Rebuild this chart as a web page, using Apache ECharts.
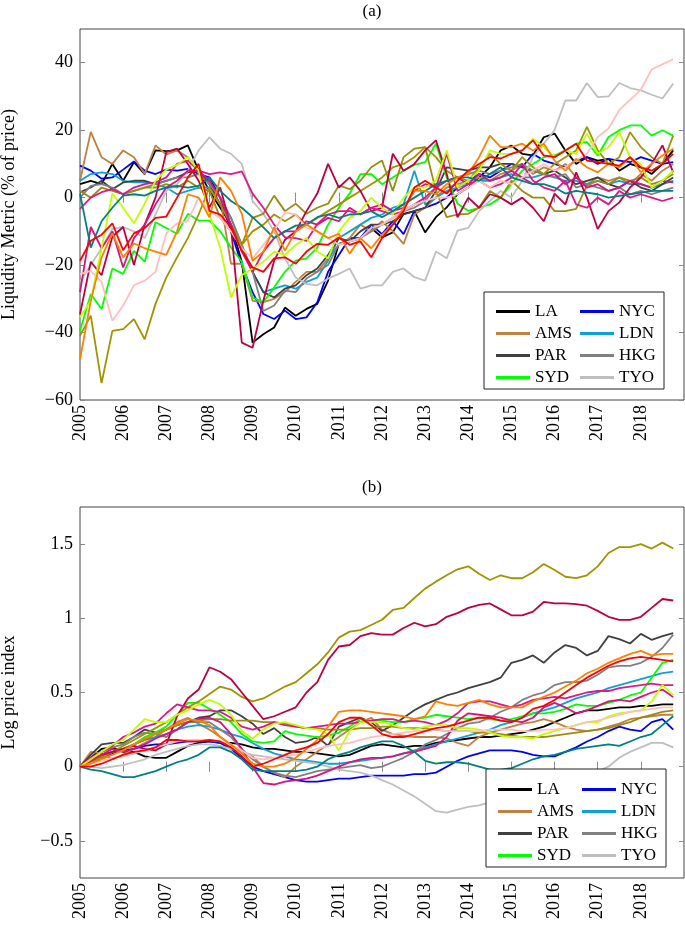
<!DOCTYPE html>
<html>
<head>
<meta charset="utf-8">
<title>Liquidity metric and log price index</title>
<script src="https://cdn.jsdelivr.net/npm/echarts@6/dist/echarts.min.js"></script>
<style>
  html, body { margin: 0; padding: 0; background: #fff; }
  #chart { width: 685px; height: 926px; }
</style>
</head>
<body>
<div id="chart"></div>
<script>
// quarterly observations, 2005Q1 .. 2018Q4
const quarters = [];
for (let i = 0; i < 56; i++) quarters.push(2005 + i / 4);

const yearTicks = [2005, 2006, 2007, 2008, 2009, 2010, 2011, 2012, 2013, 2014, 2015, 2016, 2017, 2018];
const liqTicks = [-60, -40, -20, 0, 20, 40];
const priceTicks = [-0.5, 0, 0.5, 1, 1.5];

// (a) liquidity metric, % of price
const liqLA = [4,5,4,10, 5,10.5,7,14, 13.8,14,15.5,8, 2,-3,-8,-19, -43,-40.5,-38.5,-32.6, -35,-33,-31.5,-24.6, -13.7,-13,-12,-9, -11.8,-10.3,-4.8,-4, -10.3,-5.8,-2.9,1, 3,6,9,14, 15.4,13,12.5,17.9, 19,14,10,12, 11,11.5,8,10, 9,7,10,14];
const liqNYC = [9.5,8,5.6,6, 8.3,10.7,8,7, 8.3,8,8.5,7, 6,0,-10,-20, -28,-34.5,-36,-33.5, -36,-35.5,-31,-22, -17,-12,-12,-8, -10.8,-7,-10.8,-3.9, -3,-1.8,0,3, 5,7,6,8, 10,9,13,11, 10,9,11,12, 10,11.5,11,10.5, 12,11,10,10.5];
const liqAMS = [5,19.5,12,10, 14,12,7,15.5, 12.8,14,12,8, 4,0,-19.6,-19.6, -30.6,-31,-30,-28, -25,-22,-22,-18, -14,-12,-8,-10, -7,-10,-13.7,-5, -3,0,3,4, 5,6,5,7, 8,10,7,9, 8,10,6,4, 6,5,6,4, 7,5,8,10];
const liqLDN = [5,7,7.5,7, 5,4.5,4.5,4, 3,1,2,3, 3,0,-6,-14, -22,-28,-27,-26, -27,-25,-23.7,-18.7, -12,-10,-8,-6, -5,-3,-2,8, -2,0,2,3, 4,5,5,6, 7,6,6,7, 6,5,5,4, 5,4,5,4, 4,3,4,5];
const liqPAR = [1.6,3,5,2.5, 4.5,5,5,4, 5,6,7.5,8, 4,-2,-8,-15, -22,-28,-29.6,-27, -26,-23,-21,-17, -12,-13,-10,-8, -8,-7,-5,-4, -3,2,9,8.5, 8,9,9,10, 10,9,8,7, 8,6,4,5, 6,4,3,5, 3,2,4,6];
const liqHKG = [0,3.5,4,3, 1,2,3,4, 5,6,6,7, 4,0,-6,-14, -22,-33.6,-32,-27.6, -28,-24,-22,-20, -13.7,-13,-12,-10, -8,-6,-4,-3, -1,3,5,6, 7,8,7,8, 9,10,8,7, 6,7,3,4, 3,2,3,1, 2,1,2,3];
const liqSYD = [-39.5,-28.6,-33,-21, -22.6,-15.8,-19,-7.3, -9,-10.7,-4.8,-6.8, -6.8,-10,-14.8,-19, -29.6,-31,-26.6,-22, -18.7,-18,-14.8,-8, -2.9,1.2,7,7, 4,6,8,9.7, 10.5,16,6,-1.8, -3.9,-3,-2,0, 4,8,10,12, 12.5,14,16,16.5, 12.5,18,20,21.4, 21.4,18.4,20,18.4];
const liqTYO = [-25,-20,-15,-9.3, -8.7,-10,-12,-5, 2,4,8,14, 17.9,14.5,13,10, -1,-4.8,-10,-18, -23.7,-25.6,-26,-24, -22.6,-21,-27,-26, -26,-22,-21,-23.6, -24.6,-16,-18,-9.8, -9,-4,-1,2, 0,5,12,16, 20,28.8,28.8,34, 29.8,30,34,32.5, 31.8,30.5,29.4,33.8];
const liqOlive2 = [2,0,3,2, 1,2,3,3, 4,3,5,3, 2,-6,-10,-14, -6,-4.8,0.6,-4, -1.8,-4.8,-3,-1.8, 3.6,2.5,5,9, 11,2,12,14.5, 15,2,-5.8,-5, -4.8,-3,2,0, 5,2,0,0, -4,-4,-3.3,3.6, 5,4,6,5, 6,4,5,7];
const liqOlive = [-41,-35,-55,-39.5, -39,-36,-42,-31.5, -23.7,-17.7,-12,-5, 3,-2,-8,-14, -10,-8,-5,-7, -5,-8,-6,-4, -2,0,2,4, 6,9,10,12, 15,12,8,6, 5,9,13,10, 8,12,9,7, 10,12,14,21, 14,10,12,19.4, 15,12,10,18.4];
const liqCrimson = [-34.6,-19,-23,-11.6, -8.7,-20,-8,0, 13.5,14.5,10,5, -2.9,3,-8.8,-43, -44.5,-30.6,-18.7,-12.5, -10,-4,1.2,10, 3,6,2,-4, -3,13,8,10, 14,17,7,-5.8, 0,-3,1,0, -2,0,-3,-7, 1.2,-2,7.5,0, -9.3,-4,-1.4,3, 6,10,15.5,7.5];
const liqMagB = [-28,-8.7,-15,-10, -20.7,-12,-8,-2, 3,5,8,8, 5,0,-8,-16, -22,-16,-12,-10, -10,-7,-8,-6, -7,-3,-5,-3, -2,-4,-3,2, 4,3,5,6, 4,7,5,6, 8,6,4,6, 7,4,6,3, 4,2,3,5, 4,3,5,4.5];
const liqMagA = [-3.3,0,1.6,2.5, 1,3,4,4.5, 6,10,11,8, 7,7.5,7,7.8, 1.2,-3,-8,-11.8, -12,-12.8,-7.8,-5, -4,-4,-5,-3, -4,-5,-4,-2, 0,3,13,2, 4,5,3,4, 6,10,5,3, 2,5,-2,-3, 0,-2,2,0, 1,0,-1,0];
const liqLime = [-35.5,-30.6,-15,1.2, -3,-7.6,-1.8,5, 8.3,9.7,12,8, -5,-14.8,-29.6,-23, -21,-19,-16,-17, -14,-12,-16,-18, -10,-6,-4,0, -3,-5,0,3, 3,5,14,3, 5,8,14,13, 13,14,17.5,15, 12,14,13,19, 13,15,19.4,12, 10,3,5,8];
const liqPink = [-22.7,-21.7,-25,-36.5, -32,-26,-24.6,-22, -10.6,-7.6,-7,0, -4,-6,-10,-15, -18,-14,-9.8,-4.4, -5,-9,-10,-12, -14,-13,-12,-9, -8,-6,-4,-2, -1,0,0,1, 3,5,3,5, 4,6,8,10, 8,9,11,13, 18,20.5,26,29, 32,38,39.5,41];
const liqTeal = [1.2,-14.8,-7,-3, 0.6,1,0.6,2, 3,3.5,3,3.5, 6,2,-1,-3, -5.8,-8.8,-12,-10, -8.3,-8,-5.8,-5, -6,-5,-4.8,-4, -5.8,-4,-2,0, 2,4,5,6, 6,5,7,9, 6,5,4,4, 3,1.2,2,1.5, 1,0,0.5,1, 1.5,2,2,2];
const liqOrange = [-48,-30.6,-17.7,-10.6, -17.7,-13.6,-15,-16, -17,-10,1,0, -5.8,6,2,-4.8, -18.7,-16,-8.8,-15.7, -10,-8,-10,-12, -10.7,-16.6,-12,-15, -11,-8,-3,2, 2,1,4,6, 7,12,18.4,15, 15,16,14,16, 11,8,11.5,9, 7.5,10,9,12, 7.5,10,12.5,14.5];
const liqRed = [-18.7,-12.8,-11,-7.6, -15.6,-10.6,-9,-6, -5.6,0,6,10, -3.9,-5,-8.8,-15.7, -20.7,-22,-18,-17.7, -19.6,-16,-13.7,-14, -11.8,-14,-13,-17.7, -12,-8,-4,3, 5,3,1.2,5, 8,10,12,11.6, 13,14,17,12.5, 12,14,16,11, 10.5,10,9.5,12, 9,8,10,13];

// (b) log price index
const priceLA = [0,0.06,0.12,0.13, 0.1,0.1,0.07,0.06, 0.06,0.1,0.14,0.16, 0.17,0.16,0.16,0.15, 0.13,0.12,0.12,0.11, 0.1,0.1,0.09,0.08, 0.07,0.08,0.11,0.14, 0.15,0.14,0.13,0.14, 0.14,0.16,0.17,0.18, 0.19,0.2,0.2,0.21, 0.22,0.23,0.25,0.27, 0.3,0.33,0.36,0.38, 0.38,0.39,0.4,0.4, 0.41,0.41,0.42,0.42];
const priceNYC = [0,0.03,0.06,0.09, 0.11,0.12,0.14,0.15, 0.15,0.16,0.17,0.17, 0.17,0.16,0.12,0.06, 0,-0.03,-0.05,-0.07, -0.09,-0.1,-0.1,-0.09, -0.08,-0.08,-0.07,-0.06, -0.06,-0.06,-0.06,-0.05, -0.05,-0.04,0,0.04, 0.07,0.09,0.11,0.11, 0.11,0.1,0.08,0.07, 0.07,0.1,0.13,0.17, 0.2,0.24,0.27,0.25, 0.24,0.3,0.32,0.25];
const priceAMS = [0,0.1,0.09,0.05, 0.08,0.12,0.16,0.2, 0.25,0.3,0.33,0.29, 0.25,0.2,0.15,0.1, 0.07,0,-0.04,-0.07, 0,0.05,0.1,0.15, 0.2,0.25,0.3,0.33, 0.25,0.22,0.21,0.2, 0.2,0.2,0.19,0.16, 0.14,0.2,0.23,0.25, 0.27,0.29,0.3,0.32, 0.3,0.27,0.25,0.24, 0.25,0.27,0.29,0.32, 0.33,0.34,0.35,0.35];
const priceLDN = [0,0.04,0.07,0.1, 0.12,0.15,0.18,0.2, 0.22,0.25,0.27,0.28, 0.27,0.25,0.22,0.2, 0.16,0.12,0.09,0.07, 0.05,0.04,0.03,0.02, 0.02,0.03,0.04,0.05, 0.06,0.07,0.09,0.11, 0.13,0.15,0.17,0.19, 0.21,0.23,0.25,0.28, 0.3,0.33,0.36,0.38, 0.4,0.43,0.46,0.48, 0.5,0.53,0.55,0.57, 0.59,0.61,0.63,0.64];
const pricePAR = [0,0.08,0.15,0.16, 0.16,0.2,0.25,0.23, 0.25,0.28,0.3,0.33, 0.34,0.38,0.38,0.34, 0.29,0.22,0.26,0.2, 0.16,0.17,0.2,0.14, 0.27,0.3,0.33,0.3, 0.24,0.28,0.33,0.38, 0.42,0.45,0.48,0.5, 0.53,0.55,0.57,0.6, 0.7,0.72,0.75,0.7, 0.77,0.82,0.8,0.75, 0.78,0.88,0.86,0.83, 0.895,0.855,0.88,0.9];
const priceHKG = [0,0.05,0.1,0.13, 0.15,0.2,0.23,0.22, 0.2,0.25,0.3,0.3, 0.3,0.25,0.2,0.12, 0.05,0,-0.04,-0.06, -0.07,-0.05,-0.03,-0.02, -0.01,0,0.01,-0.01, 0,0.03,0.06,0.1, 0.15,0.18,0.22,0.26, 0.29,0.3,0.33,0.37, 0.4,0.45,0.48,0.5, 0.55,0.57,0.57,0.58, 0.62,0.67,0.68,0.68, 0.7,0.74,0.8,0.89];
const priceSYD = [0,0.03,0.07,0.1, 0.12,0.15,0.2,0.23, 0.27,0.35,0.43,0.43, 0.39,0.35,0.3,0.22, 0.17,0.16,0.17,0.24, 0.22,0.21,0.2,0.21, 0.23,0.27,0.32,0.31, 0.31,0.3,0.3,0.32, 0.33,0.35,0.34,0.33, 0.32,0.33,0.32,0.31, 0.32,0.34,0.36,0.36, 0.37,0.39,0.42,0.41, 0.41,0.43,0.45,0.48, 0.5,0.6,0.7,0.72];
const priceTYO = [0,0,-0.01,0, 0.01,0.03,0.05,0.08, 0.1,0.12,0.14,0.15, 0.15,0.14,0.12,0.1, 0.08,0.07,0.06,0.05, 0.04,0.03,0.02,0, -0.02,-0.03,-0.04,-0.06, -0.09,-0.12,-0.16,-0.2, -0.25,-0.3,-0.31,-0.29, -0.27,-0.26,-0.24,-0.23, -0.22,-0.2,-0.18,-0.16, -0.15,-0.12,-0.09,-0.06, -0.03,0,0.06,0.1, 0.13,0.16,0.16,0.13];
const priceOlive2 = [0,0.03,0.07,0.1, 0.12,0.15,0.18,0.22, 0.25,0.28,0.3,0.31, 0.32,0.32,0.31,0.31, 0.31,0.3,0.3,0.29, 0.27,0.26,0.26,0.25, 0.25,0.25,0.26,0.26, 0.27,0.27,0.26,0.26, 0.26,0.25,0.24,0.24, 0.24,0.23,0.23,0.22, 0.21,0.2,0.2,0.2, 0.21,0.22,0.23,0.24, 0.25,0.26,0.28,0.3, 0.33,0.35,0.37,0.38];
const priceOlive = [0,0.03,0.06,0.1, 0.14,0.18,0.22,0.26, 0.3,0.35,0.4,0.44, 0.49,0.54,0.52,0.47, 0.44,0.46,0.5,0.54, 0.57,0.63,0.69,0.77, 0.87,0.91,0.92,0.955, 0.99,1.056,1.07,1.137, 1.2,1.247,1.29,1.33, 1.35,1.3,1.258,1.29, 1.27,1.27,1.31,1.366, 1.325,1.28,1.27,1.29, 1.35,1.44,1.48,1.48, 1.5,1.47,1.51,1.47];
const priceCrimson = [0,0.04,0.08,0.1, 0.12,0.14,0.12,0.11, 0.15,0.34,0.46,0.52, 0.67,0.64,0.59,0.5, 0.41,0.32,0.34,0.37, 0.4,0.5,0.57,0.72, 0.81,0.82,0.88,0.9, 0.89,0.89,0.935,0.97, 0.945,0.96,1.01,1.035, 1.07,1.09,1.1,1.06, 1.02,1.02,1.045,1.11, 1.1,1.1,1.095,1.085, 1.05,1.01,0.99,0.99, 1.01,1.07,1.13,1.12];
const priceMagB = [0,0.04,0.08,0.12, 0.1,0.12,0.15,0.19, 0.22,0.25,0.3,0.32, 0.33,0.3,0.22,0.12, 0,-0.11,-0.12,-0.1, -0.09,-0.08,-0.06,-0.03, 0,0.03,0.05,0.06, 0.06,0.07,0.09,0.1, 0.12,0.14,0.2,0.31, 0.36,0.35,0.34,0.33, 0.31,0.3,0.33,0.4, 0.43,0.4,0.36,0.38, 0.41,0.44,0.45,0.44, 0.47,0.5,0.52,0.47];
const priceMagA = [0,0.06,0.1,0.14, 0.2,0.23,0.27,0.29, 0.36,0.42,0.4,0.38, 0.38,0.37,0.33,0.27, 0.25,0.27,0.3,0.28, 0.27,0.26,0.27,0.28, 0.29,0.29,0.3,0.31, 0.32,0.32,0.3,0.31, 0.3,0.28,0.31,0.36, 0.43,0.44,0.44,0.42, 0.4,0.42,0.45,0.46, 0.47,0.46,0.48,0.5, 0.51,0.51,0.53,0.54, 0.55,0.56,0.55,0.55];
const priceLime = [0,0.05,0.1,0.15, 0.18,0.25,0.32,0.3, 0.3,0.35,0.38,0.42, 0.45,0.42,0.35,0.24, 0.19,0.25,0.29,0.3, 0.28,0.26,0.25,0.22, 0.11,0.24,0.3,0.3, 0.3,0.28,0.26,0.25, 0.27,0.28,0.28,0.26, 0.26,0.25,0.23,0.21, 0.2,0.2,0.19,0.22, 0.24,0.26,0.28,0.3, 0.3,0.34,0.36,0.37, 0.38,0.44,0.55,0.48];
const pricePink = [0,0.02,0.04,0.06, 0.07,0.09,0.11,0.13, 0.15,0.17,0.18,0.18, 0.18,0.17,0.15,0.11, 0.06,0.05,0.06,0.07, 0.08,0.1,0.12,0.14, 0.15,0.16,0.18,0.2, 0.21,0.22,0.23,0.24, 0.25,0.25,0.24,0.24, 0.24,0.24,0.25,0.25, 0.25,0.24,0.24,0.25, 0.25,0.26,0.28,0.3, 0.31,0.33,0.35,0.37, 0.38,0.39,0.4,0.4];
const priceTeal = [0,-0.02,-0.03,-0.05, -0.07,-0.07,-0.05,-0.03, 0,0.03,0.05,0.08, 0.13,0.13,0.1,0.05, -0.02,-0.03,-0.03,-0.03, -0.03,-0.02,0,0.05, 0.08,0.1,0.13,0.15, 0.17,0.17,0.14,0.1, 0.04,0.02,0.03,0.03, 0.02,0,-0.02,-0.02, -0.01,0.02,0.05,0.07, 0.08,0.1,0.12,0.13, 0.14,0.15,0.14,0.17, 0.2,0.22,0.28,0.34];
const priceOrange = [0,0.02,0.05,0.08, 0.11,0.15,0.19,0.22, 0.25,0.29,0.32,0.31, 0.28,0.2,0.15,0.09, 0.02,0,0,0.02, 0.06,0.12,0.18,0.27, 0.37,0.38,0.38,0.37, 0.36,0.35,0.34,0.32, 0.34,0.44,0.42,0.41, 0.43,0.45,0.42,0.4, 0.4,0.4,0.44,0.47, 0.5,0.54,0.58,0.63, 0.66,0.7,0.73,0.76, 0.78,0.75,0.76,0.76];
const priceRed = [0,0,0.02,0.05, 0.08,0.1,0.11,0.13, 0.18,0.18,0.17,0.17, 0.18,0.17,0.13,0.07, 0,0.02,0.05,0.08, 0.11,0.13,0.16,0.22, 0.3,0.33,0.33,0.28, 0.22,0.2,0.2,0.22, 0.24,0.26,0.27,0.29, 0.31,0.33,0.33,0.31, 0.3,0.33,0.39,0.41, 0.45,0.5,0.55,0.6, 0.64,0.68,0.71,0.73, 0.74,0.73,0.72,0.71];

// draw order = list order, later ones on top
const cities = [
  { name: 'LA',  color: '#000000', liq: liqLA,  price: priceLA },
  { name: 'NYC', color: '#0000ff', liq: liqNYC, price: priceNYC },
  { name: 'AMS', color: '#bf8040', liq: liqAMS, price: priceAMS },
  { name: 'LDN', color: '#0ea0d8', liq: liqLDN, price: priceLDN },
  { name: 'PAR', color: '#404040', liq: liqPAR, price: pricePAR },
  { name: 'HKG', color: '#808080', liq: liqHKG, price: priceHKG },
  { name: 'SYD', color: '#00ff00', liq: liqSYD, price: priceSYD },
  { name: 'TYO', color: '#bfbfbf', liq: liqTYO, price: priceTYO },
  { name: 'olive2',  color: '#9a8c10', liq: liqOlive2,  price: priceOlive2 },
  { name: 'olive',   color: '#a09400', liq: liqOlive,   price: priceOlive },
  { name: 'crimson', color: '#bf0040', liq: liqCrimson, price: priceCrimson },
  { name: 'magB',    color: '#d8137f', liq: liqMagB,    price: priceMagB },
  { name: 'magA',    color: '#e0168a', liq: liqMagA,    price: priceMagA },
  { name: 'lime',    color: '#bfff00', liq: liqLime,    price: priceLime },
  { name: 'pink',    color: '#ffbfbf', liq: liqPink,    price: pricePink },
  { name: 'teal',    color: '#008080', liq: liqTeal,    price: priceTeal },
  { name: 'orange',  color: '#ff8000', liq: liqOrange,  price: priceOrange },
  { name: 'red',     color: '#ff0000', liq: liqRed,     price: priceRed }
];

const FONT = 'Liberation Serif';
const minus = v => String(v).replace('-', '\u2212');

function xAxes(grid) {
  const tick = { inside: true, length: 5, customValues: yearTicks, lineStyle: { color: '#888' } };
  return [
    { gridIndex: grid, type: 'value', min: 2005, max: 2019, position: 'bottom',
      axisLine: { show: false }, splitLine: { show: false }, axisTick: tick,
      axisLabel: { customValues: yearTicks, rotate: 90, margin: 5, fontFamily: FONT, fontSize: 18, color: '#000',
                   formatter: v => String(v) } },
    { gridIndex: grid, type: 'value', min: 2005, max: 2019, position: 'top',
      axisLine: { show: false }, splitLine: { show: false }, axisTick: tick, axisLabel: { show: false } }
  ];
}

function yAxes(grid, min, max, ticks, name) {
  const tick = { inside: true, length: 5, customValues: ticks, lineStyle: { color: '#888' } };
  return [
    { gridIndex: grid, type: 'value', min: min, max: max, position: 'left',
      name: name, nameLocation: 'middle', nameGap: 62, nameRotate: 90,
      nameTextStyle: { fontFamily: FONT, fontSize: 18, color: '#000' },
      axisLine: { show: false }, splitLine: { show: false }, axisTick: tick,
      axisLabel: { customValues: ticks, margin: 7, fontFamily: FONT, fontSize: 18, color: '#000', formatter: minus } },
    { gridIndex: grid, type: 'value', min: min, max: max, position: 'right',
      axisLine: { show: false }, splitLine: { show: false }, axisTick: tick, axisLabel: { show: false } }
  ];
}

const series = [];
cities.forEach(c => {
  series.push({
    name: c.name, type: 'line', xAxisIndex: 0, yAxisIndex: 0,
    data: quarters.map((q, i) => [q, c.liq[i]]),
    symbol: 'none', lineStyle: { color: c.color, width: 1.8 }, itemStyle: { color: c.color }
  });
  series.push({
    name: c.name, type: 'line', xAxisIndex: 2, yAxisIndex: 2,
    data: quarters.map((q, i) => [q, c.price[i]]),
    symbol: 'none', lineStyle: { color: c.color, width: 1.8 }, itemStyle: { color: c.color }
  });
});

function legendCol(names, left, top) {
  return {
    data: names, orient: 'vertical', left: left, top: top, itemGap: 5,
    icon: 'rect', itemWidth: 34, itemHeight: 3, selectedMode: false, z: 10,
    textStyle: { fontFamily: FONT, fontSize: 17, lineHeight: 17, color: '#000' }
  };
}

const chart = echarts.init(document.getElementById('chart'));
chart.setOption({
  animation: false,
  backgroundColor: '#fff',
  grid: [
    { left: 80, top: 29, width: 604, height: 371, show: true, borderColor: '#444', borderWidth: 1, outerBoundsMode: 'none' },
    { left: 80, top: 507, width: 604, height: 371, show: true, borderColor: '#444', borderWidth: 1, outerBoundsMode: 'none' }
  ],
  xAxis: xAxes(0).concat(xAxes(1)),
  yAxis: yAxes(0, -60, 50, liqTicks, 'Liquidity Metric (% of price)')
    .concat(yAxes(1, -0.75, 1.75, priceTicks, 'Log price index')),
  legend: [
    legendCol(['LA', 'AMS', 'PAR', 'SYD'], 491, 298),
    legendCol(['NYC', 'LDN', 'HKG', 'TYO'], 575, 298),
    legendCol(['LA', 'AMS', 'PAR', 'SYD'], 493, 776),
    legendCol(['NYC', 'LDN', 'HKG', 'TYO'], 577, 776)
  ],
  graphic: [
    { type: 'text', x: 372, y: 3, z: 5, style: { text: '(a)', textAlign: 'center', font: '17px "Liberation Serif"', fill: '#000' } },
    { type: 'text', x: 372, y: 479, z: 5, style: { text: '(b)', textAlign: 'center', font: '17px "Liberation Serif"', fill: '#000' } },
    { type: 'rect', z: 5, shape: { x: 484, y: 292, width: 180, height: 97 }, style: { fill: '#fff', stroke: '#222', lineWidth: 1 } },
    { type: 'rect', z: 5, shape: { x: 486, y: 769, width: 180, height: 98 }, style: { fill: '#fff', stroke: '#222', lineWidth: 1 } }
  ],
  series: series
});
</script>
</body>
</html>
